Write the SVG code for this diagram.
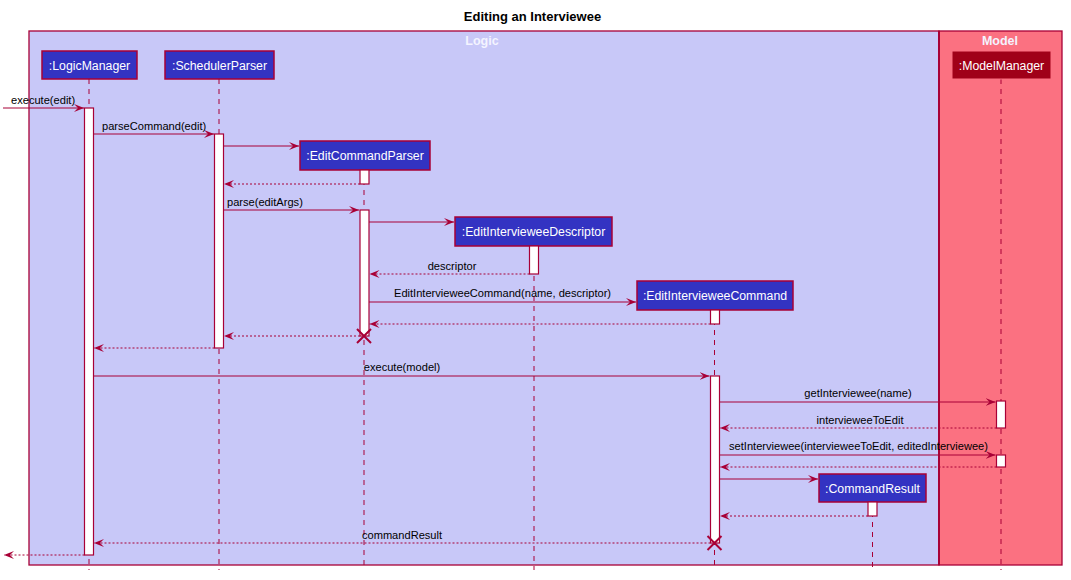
<svg xmlns="http://www.w3.org/2000/svg" width="1071" height="580" viewBox="0 0 1071 580">
<style>
text{font-family:"Liberation Sans",Arial,sans-serif}
.title{font-size:13px;font-weight:bold;fill:#000}
.boxt{font-size:12.5px;font-weight:bold;fill:#F4F4FF}
.pt{font-size:12.3px;fill:#FFFFFF}
.msg{font-size:11.1px;fill:#000}
.part{fill:#3333C2;stroke:#A80036;stroke-width:1.5}
.life{stroke:#A80036;stroke-width:1;stroke-dasharray:5,5;fill:none}
.act{fill:#FFFFFF;stroke:#A80036;stroke-width:1.2}
.sync{stroke:#A80036;stroke-width:1;fill:none}
.ret{stroke:#A80036;stroke-width:1;stroke-dasharray:2,2;fill:none}
.x{stroke:#A80036;stroke-width:2;fill:none}
</style>
<defs>
<marker id="ah" markerWidth="12" markerHeight="10" refX="10" refY="4" orient="auto" markerUnits="userSpaceOnUse">
<polygon points="0,0 10,4 0,8 4,4" fill="#A80036"/>
</marker>
</defs>
<rect width="1071" height="580" fill="#FFFFFF"/>
<text class="title" x="532.5" y="21" text-anchor="middle">Editing an Interviewee</text>
<g id="box-logic">
<rect x="29" y="31" width="910" height="534" fill="#C8C8F8" stroke="#A80036" stroke-width="1.3"/>
<text class="boxt" x="482" y="45" text-anchor="middle">Logic</text>
</g>
<g id="box-model">
<rect x="939" y="31" width="123" height="534" fill="#FB7181" stroke="#A80036" stroke-width="1.3"/>
<line x1="939" y1="31" x2="939" y2="565" stroke="#A80036" stroke-width="2"/>
<text class="boxt" x="1000" y="45" text-anchor="middle">Model</text>
</g>
<g id="lifelines">
<line class="life" x1="89" y1="79" x2="89" y2="570"/>
<line class="life" x1="219" y1="79" x2="219" y2="570"/>
<line class="life" x1="364" y1="170" x2="364" y2="570"/>
<line class="life" x1="534" y1="246" x2="534" y2="570"/>
<line class="life" x1="714.5" y1="310" x2="714.5" y2="570"/>
<line class="life" x1="872.5" y1="502" x2="872.5" y2="570"/>
<line class="life" x1="1001" y1="79" x2="1001" y2="570"/>
</g>
<g id="LogicManager">
<rect class="part" x="42" y="51" width="95" height="28"/>
<text class="pt" x="89.5" y="69.5" text-anchor="middle">:LogicManager</text>
<rect class="act" x="84.5" y="108" width="9" height="447"/>
</g>
<g id="SchedulerParser">
<rect class="part" x="165" y="51" width="109" height="28"/>
<text class="pt" x="219.5" y="69.5" text-anchor="middle">:SchedulerParser</text>
<rect class="act" x="214.5" y="134" width="9" height="214"/>
</g>
<g id="EditCommandParser">
<rect class="part" x="300" y="141" width="130" height="29"/>
<text class="pt" x="365" y="160" text-anchor="middle">:EditCommandParser</text>
<rect class="act" x="360" y="170" width="9" height="14"/>
<rect class="act" x="360" y="210" width="9" height="126"/>
</g>
<g id="EditIntervieweeDescriptor">
<rect class="part" x="455" y="217" width="157" height="29"/>
<text class="pt" x="533.5" y="236" text-anchor="middle">:EditIntervieweeDescriptor</text>
<rect class="act" x="529.5" y="246" width="9" height="28"/>
</g>
<g id="EditIntervieweeCommand">
<rect class="part" x="637" y="281" width="156" height="29"/>
<text class="pt" x="715" y="300" text-anchor="middle">:EditIntervieweeCommand</text>
<rect class="act" x="710.5" y="310" width="9" height="14"/>
<rect class="act" x="710.5" y="376" width="9" height="167"/>
</g>
<g id="CommandResult">
<rect class="part" x="819" y="474" width="107" height="28"/>
<text class="pt" x="872.5" y="492.5" text-anchor="middle">:CommandResult</text>
<rect class="act" x="868" y="502" width="9" height="14"/>
</g>
<g id="ModelManager">
<rect x="952" y="51" width="99" height="28" fill="#A00018" stroke="#FB7181" stroke-width="1"/>
<text class="pt" x="1001.5" y="69.5" text-anchor="middle">:ModelManager</text>
<rect class="act" x="996.5" y="401" width="9" height="27"/>
<rect class="act" x="996.5" y="455" width="9" height="12"/>
</g>
<g id="connectors">
<line class="sync" x1="3" y1="108" x2="84" y2="108" marker-end="url(#ah)"/>
<text class="msg" x="11" y="104">execute(edit)</text>
<line class="sync" x1="93.5" y1="134" x2="214" y2="134" marker-end="url(#ah)"/>
<text class="msg" x="102" y="130">parseCommand(edit)</text>
<line class="sync" x1="223.5" y1="146" x2="299" y2="146" marker-end="url(#ah)"/>
<line class="ret" x1="360" y1="184" x2="224" y2="184" marker-end="url(#ah)"/>
<line class="sync" x1="223.5" y1="210" x2="359" y2="210" marker-end="url(#ah)"/>
<text class="msg" x="227" y="206">parse(editArgs)</text>
<line class="sync" x1="369" y1="222" x2="454" y2="222" marker-end="url(#ah)"/>
<line class="ret" x1="529.5" y1="274" x2="369.5" y2="274" marker-end="url(#ah)"/>
<text class="msg" x="452" y="270" text-anchor="middle">descriptor</text>
<line class="sync" x1="369" y1="302" x2="636" y2="302" marker-end="url(#ah)"/>
<text class="msg" x="394" y="297">EditIntervieweeCommand(name, descriptor)</text>
<line class="ret" x1="710.5" y1="324" x2="369.5" y2="324" marker-end="url(#ah)"/>
<line class="ret" x1="360" y1="336" x2="224" y2="336" marker-end="url(#ah)"/>
<path class="x" d="M357,329 L371,343 M371,329 L357,343"/>
<line class="ret" x1="214.5" y1="348" x2="94" y2="348" marker-end="url(#ah)"/>
<line class="sync" x1="93.5" y1="376" x2="709.5" y2="376" marker-end="url(#ah)"/>
<text class="msg" x="402" y="371" text-anchor="middle">execute(model)</text>
<line class="sync" x1="719.5" y1="402" x2="995.5" y2="402" marker-end="url(#ah)"/>
<text class="msg" x="858" y="397" text-anchor="middle">getInterviewee(name)</text>
<line class="ret" x1="996.5" y1="428" x2="720" y2="428" marker-end="url(#ah)"/>
<text class="msg" x="860" y="424" text-anchor="middle">intervieweeToEdit</text>
<line class="sync" x1="719.5" y1="455" x2="995.5" y2="455" marker-end="url(#ah)"/>
<text class="msg" x="729" y="450">setInterviewee(intervieweeToEdit, editedInterviewee)</text>
<line class="ret" x1="996.5" y1="467" x2="720" y2="467" marker-end="url(#ah)"/>
<line class="sync" x1="719.5" y1="479" x2="818" y2="479" marker-end="url(#ah)"/>
<line class="ret" x1="868" y1="516" x2="720" y2="516" marker-end="url(#ah)"/>
<line class="ret" x1="710.5" y1="543" x2="94" y2="543" marker-end="url(#ah)"/>
<text class="msg" x="402" y="539" text-anchor="middle">commandResult</text>
<path class="x" d="M707.5,536 L721.5,550 M721.5,536 L707.5,550"/>
<line class="ret" x1="84.5" y1="555" x2="4" y2="555" marker-end="url(#ah)"/>
</g>
</svg>
